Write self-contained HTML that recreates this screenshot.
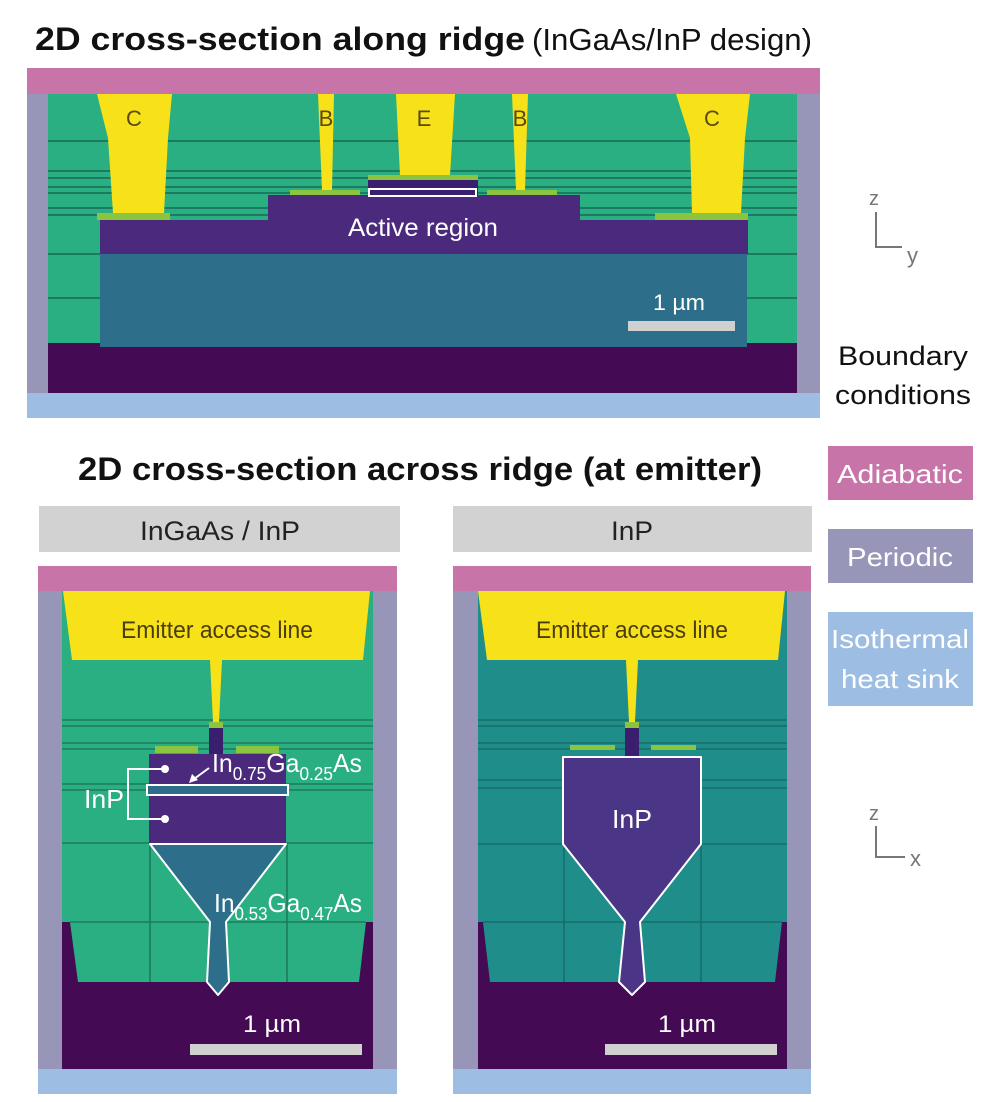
<!DOCTYPE html>
<html><head><meta charset="utf-8"><style>
html,body{margin:0;padding:0;background:#fff;}
svg{display:block;}
text{font-family:"Liberation Sans",sans-serif;}
</style></head><body>
<svg width="1000" height="1102" viewBox="0 0 1000 1102" xmlns="http://www.w3.org/2000/svg">
<!-- Titles -->
<text x="35" y="50" font-size="32" font-weight="bold" fill="#111" textLength="490" lengthAdjust="spacingAndGlyphs">2D cross-section along ridge</text>
<text x="532" y="50" font-size="31" fill="#111" textLength="280" lengthAdjust="spacingAndGlyphs">(InGaAs/InP design)</text>

<!-- TOP PANEL -->
<rect x="27" y="68" width="793" height="350" fill="#9896b8"/>
<rect x="27" y="68" width="793" height="26" fill="#c774a8"/>
<rect x="27" y="393" width="793" height="25" fill="#9dbde2"/>
<rect x="48" y="94" width="749" height="250" fill="#2aaf82"/>
<g stroke="#1d7a60" stroke-width="2">
<line x1="48" y1="141" x2="797" y2="141"/>
<line x1="48" y1="171" x2="797" y2="171"/>
<line x1="48" y1="178" x2="797" y2="178"/>
<line x1="48" y1="187" x2="797" y2="187"/>
<line x1="48" y1="193" x2="797" y2="193"/>
<line x1="48" y1="208" x2="797" y2="208"/>
<line x1="48" y1="215" x2="797" y2="215"/>
<line x1="48" y1="254" x2="797" y2="254"/>
<line x1="48" y1="298" x2="797" y2="298"/>
</g>
<rect x="48" y="343" width="749" height="50" fill="#440a53"/>
<rect x="100" y="253" width="647" height="94" fill="#2d6e8a"/>
<rect x="100" y="220" width="648" height="34" fill="#4b2a7e"/>
<rect x="268" y="195" width="312" height="26" fill="#4b2a7e"/>
<rect x="368" y="178" width="110" height="18" fill="#3a1f6e"/>
<rect x="368" y="175" width="110" height="5" fill="#8bc53f"/>
<rect x="369" y="189" width="107" height="7" fill="none" stroke="#fff" stroke-width="2"/>
<!-- contacts -->
<rect x="97" y="213" width="73" height="7" fill="#8bc53f"/>
<rect x="290" y="190" width="70" height="5" fill="#8bc53f"/>
<rect x="487" y="190" width="70" height="5" fill="#8bc53f"/>
<rect x="655" y="213" width="93" height="7" fill="#8bc53f"/>
<!-- metals -->
<polygon points="97,94 172,94 168,138 164,213 113,213 108,138" fill="#f7e21a"/>
<polygon points="318,94 334,94 332,190 322,190" fill="#f7e21a"/>
<polygon points="396,94 455,94 450,175 400,175" fill="#f7e21a"/>
<polygon points="512,94 528,94 525,190 516,190" fill="#f7e21a"/>
<polygon points="676,94 750,94 745,138 741,213 692,213 690,138" fill="#f7e21a"/>
<g font-size="22" fill="#5a4a10" text-anchor="middle">
<text x="134" y="126">C</text><text x="326" y="126">B</text><text x="424" y="126">E</text><text x="520" y="126">B</text><text x="712" y="126">C</text>
</g>
<text x="423" y="236" font-size="25" fill="#fff" text-anchor="middle" textLength="150" lengthAdjust="spacingAndGlyphs">Active region</text>
<text x="679" y="310" font-size="22" fill="#fff" text-anchor="middle" textLength="52" lengthAdjust="spacingAndGlyphs">1 µm</text>
<rect x="628" y="321" width="107" height="10" fill="#d0d0d0"/>

<!-- axes z-y -->
<g stroke="#777" stroke-width="2" fill="none"><polyline points="876,212 876,247 902,247"/></g>
<text x="869" y="205" font-size="20" fill="#777">z</text>
<text x="907" y="263" font-size="22" fill="#777">y</text>

<!-- boundary legend -->
<text x="903" y="365" font-size="27" fill="#111" text-anchor="middle" textLength="130" lengthAdjust="spacingAndGlyphs">Boundary</text>
<text x="903" y="404" font-size="27" fill="#111" text-anchor="middle" textLength="136" lengthAdjust="spacingAndGlyphs">conditions</text>
<rect x="828" y="446" width="145" height="54" fill="#c774a8"/>
<text x="900" y="483" font-size="26" fill="#fff" text-anchor="middle" textLength="126" lengthAdjust="spacingAndGlyphs">Adiabatic</text>
<rect x="828" y="529" width="145" height="54" fill="#9896b8"/>
<text x="900" y="566" font-size="26" fill="#fff" text-anchor="middle" textLength="106" lengthAdjust="spacingAndGlyphs">Periodic</text>
<rect x="828" y="612" width="145" height="94" fill="#9dbde2"/>
<text x="900" y="648" font-size="26" fill="#fff" text-anchor="middle" textLength="138" lengthAdjust="spacingAndGlyphs">Isothermal</text>
<text x="900" y="688" font-size="26" fill="#fff" text-anchor="middle" textLength="118" lengthAdjust="spacingAndGlyphs">heat sink</text>

<!-- axes z-x -->
<g stroke="#777" stroke-width="2" fill="none"><polyline points="876,826 876,857 905,857"/></g>
<text x="869" y="820" font-size="20" fill="#777">z</text>
<text x="910" y="866" font-size="22" fill="#777">x</text>

<!-- second title -->
<text x="420" y="480" font-size="32" font-weight="bold" fill="#111" text-anchor="middle" textLength="684" lengthAdjust="spacingAndGlyphs">2D cross-section across ridge (at emitter)</text>
<rect x="39" y="506" width="361" height="46" fill="#d2d2d2"/>
<text x="220" y="540" font-size="27" fill="#222" text-anchor="middle" textLength="160" lengthAdjust="spacingAndGlyphs">InGaAs / InP</text>
<rect x="453" y="506" width="359" height="46" fill="#d2d2d2"/>
<text x="632" y="540" font-size="27" fill="#222" text-anchor="middle" textLength="42" lengthAdjust="spacingAndGlyphs">InP</text>

<!-- LEFT BOTTOM PANEL -->
<g>
<rect x="38" y="566" width="359" height="528" fill="#9896b8"/>
<rect x="38" y="566" width="359" height="25" fill="#c774a8"/>
<rect x="38" y="1069" width="359" height="25" fill="#9dbde2"/>
<rect x="62" y="591" width="311" height="478" fill="#2aaf82"/>
<polygon points="62,922 373,922 373,1069 62,1069" fill="#440a53"/>
<polygon points="70,922 366,922 359,982 78,982" fill="#2aaf82"/>
<g stroke="#1d7a60" stroke-width="1.6">
<line x1="62" y1="720" x2="373" y2="720"/><line x1="62" y1="726" x2="373" y2="726"/>
<line x1="62" y1="743" x2="373" y2="743"/><line x1="62" y1="749" x2="373" y2="749"/>
<line x1="62" y1="784" x2="373" y2="784"/><line x1="62" y1="790" x2="373" y2="790"/>
<line x1="62" y1="843" x2="373" y2="843"/><line x1="70" y1="922" x2="366" y2="922"/>
<line x1="150" y1="843" x2="150" y2="982"/><line x1="287" y1="843" x2="287" y2="982"/>
</g>
<polygon points="63,591 370,591 363,660 72,660" fill="#f7e21a"/>
<text x="217" y="638" font-size="24" fill="#4a3c10" text-anchor="middle" textLength="192" lengthAdjust="spacingAndGlyphs">Emitter access line</text>
<polygon points="210,660 222,660 219,722 213,722" fill="#f7e21a"/>
<rect x="209" y="722" width="14" height="6" fill="#8bc53f"/>
<rect x="209" y="728" width="14" height="26" fill="#3a1f6e"/>
<rect x="155" y="746" width="43" height="7" fill="#8bc53f"/>
<rect x="236" y="746" width="43" height="7" fill="#8bc53f"/>
<rect x="149" y="754" width="137" height="90" fill="#4b2a7e"/>
<rect x="147" y="785" width="141" height="10" fill="#2d6e8a" stroke="#fff" stroke-width="2"/>
<polygon points="150,844 286,844 226,922 229,982 218,995 207,982 210,922" fill="#2d6e8a" stroke="#fff" stroke-width="2" stroke-linejoin="round"/>
<rect x="190" y="1044" width="172" height="11" fill="#d0d0d0"/>
<text x="272" y="1032" font-size="24" fill="#fff" text-anchor="middle" textLength="58" lengthAdjust="spacingAndGlyphs">1 µm</text>
<!-- labels -->
<text x="212" y="772" font-size="26" fill="#fff" textLength="150" lengthAdjust="spacingAndGlyphs">In<tspan font-size="18" dy="8">0.75</tspan><tspan dy="-8">Ga</tspan><tspan font-size="18" dy="8">0.25</tspan><tspan dy="-8">As</tspan></text>
<line x1="209" y1="768" x2="194" y2="779" stroke="#fff" stroke-width="2"/>
<polygon points="189,783 192,774 198,780" fill="#fff"/>
<polyline points="165,769 128,769 128,819 165,819" fill="none" stroke="#fff" stroke-width="2"/>
<circle cx="165" cy="769" r="4" fill="#fff"/><circle cx="165" cy="819" r="4" fill="#fff"/>
<text x="84" y="808" font-size="26" fill="#fff" textLength="40" lengthAdjust="spacingAndGlyphs">InP</text>
<text x="214" y="912" font-size="26" fill="#fff" textLength="148" lengthAdjust="spacingAndGlyphs">In<tspan font-size="18" dy="8">0.53</tspan><tspan dy="-8">Ga</tspan><tspan font-size="18" dy="8">0.47</tspan><tspan dy="-8">As</tspan></text>
</g>

<!-- RIGHT BOTTOM PANEL -->
<g>
<rect x="453" y="566" width="358" height="528" fill="#9896b8"/>
<rect x="453" y="566" width="358" height="25" fill="#c774a8"/>
<rect x="453" y="1069" width="358" height="25" fill="#9dbde2"/>
<rect x="478" y="591" width="309" height="478" fill="#1f8e8a"/>
<polygon points="478,922 787,922 787,1069 478,1069" fill="#440a53"/>
<polygon points="483,922 782,922 775,982 490,982" fill="#1f8e8a"/>
<g stroke="#176d6a" stroke-width="1.6">
<line x1="478" y1="720" x2="787" y2="720"/><line x1="478" y1="726" x2="787" y2="726"/>
<line x1="478" y1="743" x2="787" y2="743"/><line x1="478" y1="749" x2="787" y2="749"/>
<line x1="478" y1="780" x2="787" y2="780"/><line x1="478" y1="788" x2="787" y2="788"/>
<line x1="478" y1="844" x2="787" y2="844"/><line x1="483" y1="922" x2="782" y2="922"/>
<line x1="564" y1="844" x2="564" y2="982"/><line x1="701" y1="844" x2="701" y2="982"/>
</g>
<polygon points="478,591 785,591 778,660 487,660" fill="#f7e21a"/>
<text x="632" y="638" font-size="24" fill="#4a3c10" text-anchor="middle" textLength="192" lengthAdjust="spacingAndGlyphs">Emitter access line</text>
<polygon points="626,660 638,660 635,722 629,722" fill="#f7e21a"/>
<rect x="625" y="722" width="14" height="6" fill="#8bc53f"/>
<rect x="625" y="728" width="14" height="29" fill="#3a1f6e"/>
<rect x="570" y="745" width="45" height="5" fill="#8bc53f"/>
<rect x="651" y="745" width="45" height="5" fill="#8bc53f"/>
<polygon points="563,757 701,757 701,844 640,922 645,982 632,995 619,982 625,922 563,844" fill="#4b3587" stroke="#fff" stroke-width="2" stroke-linejoin="round"/>
<text x="632" y="828" font-size="26" fill="#fff" text-anchor="middle" textLength="40" lengthAdjust="spacingAndGlyphs">InP</text>
<rect x="605" y="1044" width="172" height="11" fill="#d0d0d0"/>
<text x="687" y="1032" font-size="24" fill="#fff" text-anchor="middle" textLength="58" lengthAdjust="spacingAndGlyphs">1 µm</text>
</g>
</svg>
</body></html>
